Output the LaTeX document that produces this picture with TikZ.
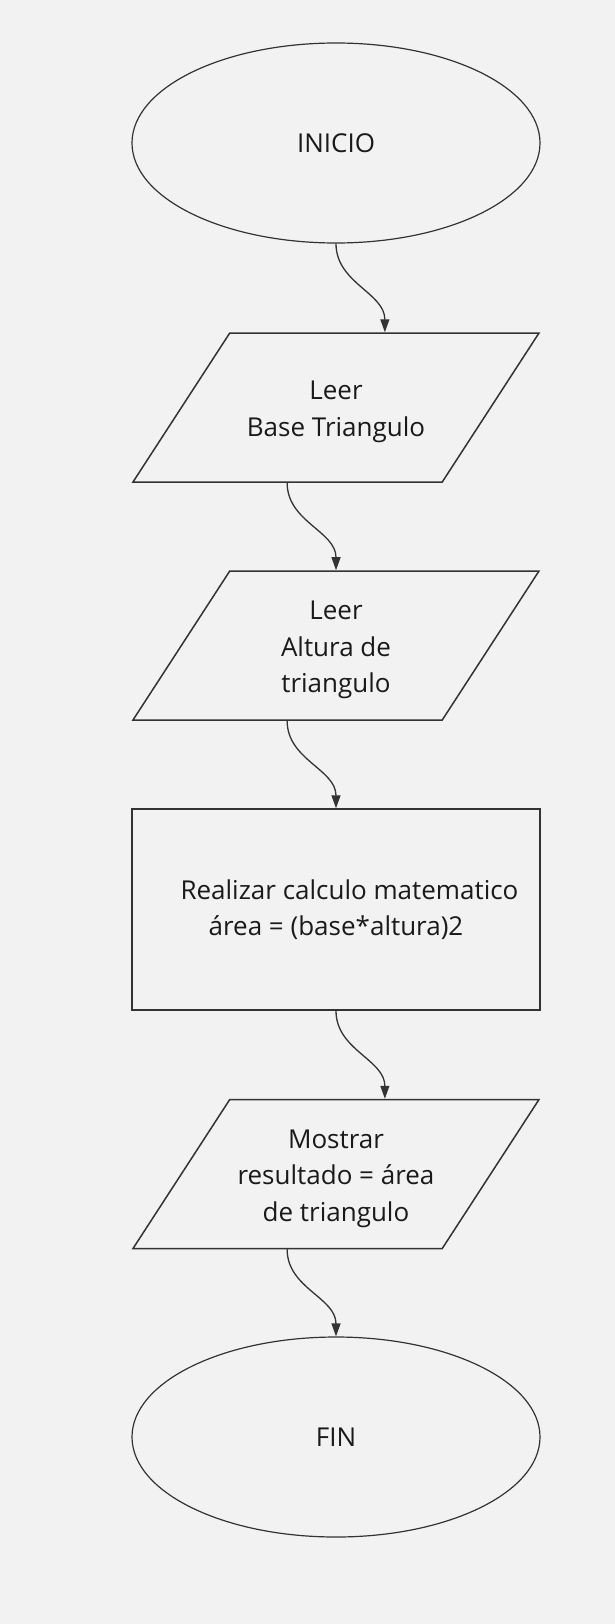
\documentclass[tikz,border=0pt]{standalone}
\usepackage{fontspec}
\setmainfont{Open Sans}
\usetikzlibrary{shapes.geometric,arrows.meta}
\definecolor{fondo}{HTML}{F2F2F2}
\definecolor{linea}{HTML}{333333}
\definecolor{texto}{HTML}{1A1A1A}
\newcommand{\cajatexto}[1]{\parbox[c][149pt][c]{212pt}{\centering
    \vspace*{9pt}#1}}
\tikzset{terminal/.style={ellipse,
    draw = linea, line width = 1.2pt,
    minimum width = 408pt, minimum height = 200pt}}
\tikzset{entrada/.style={trapezium,
    trapezium left angle = 57, trapezium right angle = 123,
    trapezium stretches body,
    draw = linea, line width = 1.5pt, inner sep = 0pt,
    minimum width = 406pt}}
\tikzset{proceso/.style={rectangle,
    draw = linea, line width = 1.5pt,
    minimum width = 408pt, minimum height = 201pt, align = center}}
\tikzset{flecha/.style={-{Triangle[length=13pt,width=9pt]},
    draw = linea, line width = 1.3pt}}

\begin{document}
\begin{tikzpicture}[x=1pt, y=-1pt, text = texto,
    font = \fontsize{26pt}{36.5pt}\selectfont]

    %Fondo
    \fill[fondo] (0,0) rectangle (615,1624);

    %Nodos
    \node[terminal] (inicio) at (336,143) {INICIO};
    \node[entrada] (base) at (336,407.5)
        {\cajatexto{Leer\\Base Triangulo}};
    \node[entrada] (altura) at (336,645.5)
        {\cajatexto{Leer\\Altura de\\triangulo}};
    \node[proceso] (calculo) at (336,909.5)
        {\hspace*{27pt}Realizar calculo matematico\\área = (base*altura)2};
    \node[entrada] (mostrar) at (336,1174)
        {\cajatexto{Mostrar\\resultado = área\\de triangulo}};
    \node[terminal] (fin) at (336,1437) {FIN};

    %Flechas
    \draw[flecha] (inicio.south) to[out=-90, in=90] (base.top side);
    \draw[flecha] (base.bottom side) to[out=-90, in=90] (altura.north);
    \draw[flecha] (altura.bottom side) to[out=-90, in=90] (calculo.north);
    \draw[flecha] (calculo.south) to[out=-90, in=90] (mostrar.top side);
    \draw[flecha] (mostrar.bottom side) to[out=-90, in=90] (fin.north);

\end{tikzpicture}
\end{document}
